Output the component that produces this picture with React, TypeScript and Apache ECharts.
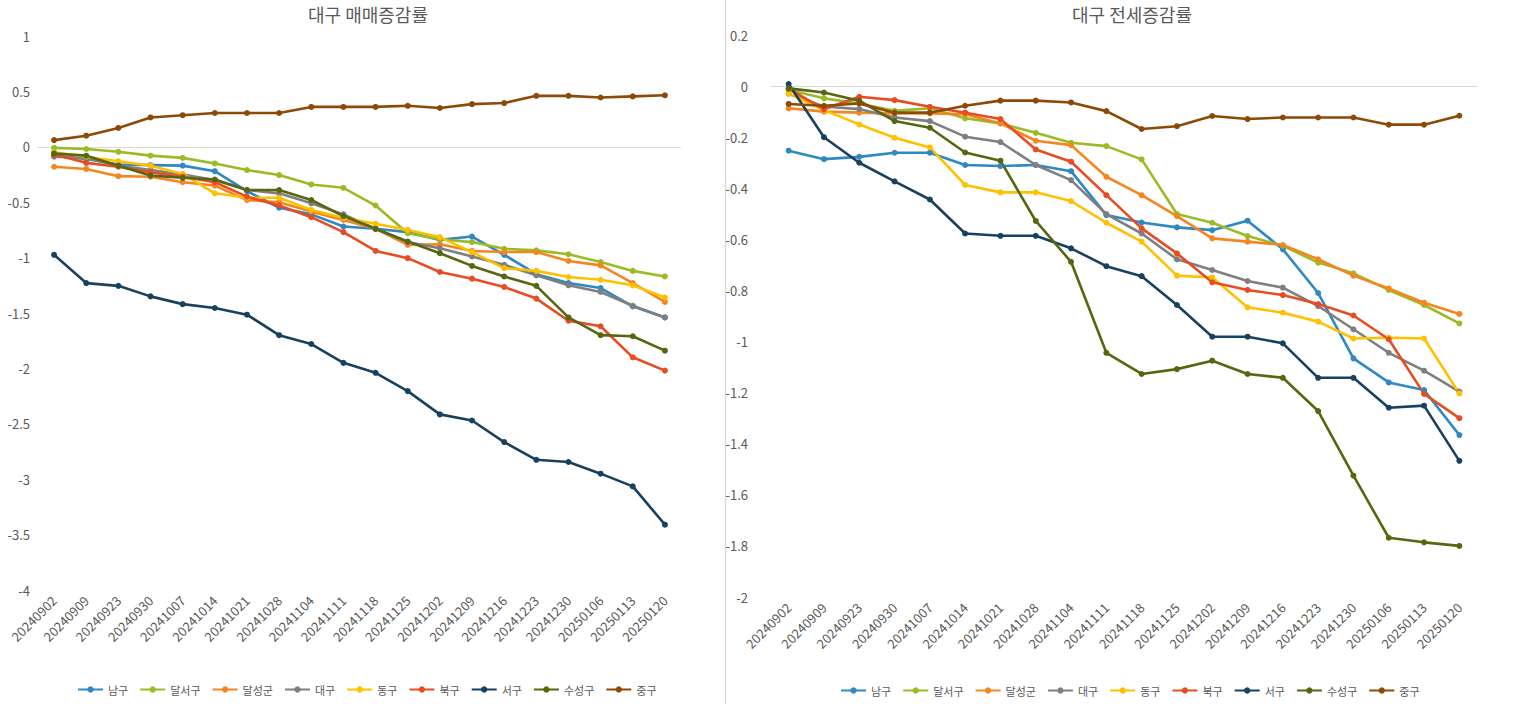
import React, { useEffect, useRef } from "react";
import * as echarts from "echarts";

const categories = [
  "20240902", "20240909", "20240923", "20240930", "20241007", "20241014", "20241021",
  "20241028", "20241104", "20241111", "20241118", "20241125", "20241202", "20241209",
  "20241216", "20241223", "20241230", "20250106", "20250113", "20250120",
];

const districts = ["남구", "달서구", "달성군", "대구", "동구", "북구", "서구", "수성구", "중구"];
const colors = ["#2e88c4", "#9bbb25", "#f5861f", "#7f7f7f", "#ffc000", "#e84c22", "#17415e", "#56670f", "#8c4a06"];

// 매매증감률
const sale_남구 = [-0.08, -0.11, -0.16, -0.165, -0.17, -0.22, -0.4, -0.55, -0.61, -0.72, -0.74, -0.77, -0.84, -0.81, -0.975, -1.15, -1.23, -1.275, -1.44, -1.54];
const sale_달서구 = [-0.01, -0.02, -0.045, -0.08, -0.1, -0.15, -0.21, -0.255, -0.34, -0.37, -0.53, -0.78, -0.835, -0.86, -0.92, -0.935, -0.97, -1.04, -1.12, -1.17];
const sale_달성군 = [-0.18, -0.2, -0.265, -0.27, -0.32, -0.35, -0.48, -0.5, -0.585, -0.66, -0.74, -0.885, -0.88, -0.94, -0.95, -0.95, -1.03, -1.07, -1.23, -1.4];
const sale_대구 = [-0.09, -0.1, -0.17, -0.21, -0.25, -0.3, -0.39, -0.42, -0.51, -0.61, -0.74, -0.86, -0.915, -0.99, -1.065, -1.16, -1.25, -1.31, -1.435, -1.54];
const sale_동구 = [-0.05, -0.09, -0.13, -0.17, -0.245, -0.42, -0.46, -0.46, -0.57, -0.64, -0.695, -0.75, -0.815, -0.95, -1.095, -1.12, -1.175, -1.2, -1.25, -1.36];
const sale_북구 = [-0.07, -0.145, -0.18, -0.23, -0.27, -0.32, -0.45, -0.53, -0.635, -0.77, -0.94, -1.005, -1.13, -1.19, -1.265, -1.37, -1.57, -1.62, -1.9, -2.02];
const sale_서구 = [-0.975, -1.23, -1.255, -1.35, -1.42, -1.455, -1.515, -1.7, -1.78, -1.95, -2.04, -2.205, -2.415, -2.47, -2.665, -2.825, -2.845, -2.95, -3.065, -3.41];
const sale_수성구 = [-0.06, -0.08, -0.17, -0.26, -0.28, -0.295, -0.39, -0.39, -0.48, -0.625, -0.74, -0.855, -0.96, -1.075, -1.17, -1.255, -1.54, -1.7, -1.71, -1.84];
const sale_중구 = [0.06, 0.1, 0.17, 0.265, 0.285, 0.305, 0.305, 0.305, 0.36, 0.36, 0.36, 0.37, 0.35, 0.385, 0.395, 0.46, 0.46, 0.445, 0.455, 0.465];

// 전세증감률
const jeon_남구 = [-0.253, -0.286, -0.277, -0.261, -0.261, -0.309, -0.313, -0.309, -0.333, -0.505, -0.534, -0.553, -0.564, -0.527, -0.639, -0.81, -1.066, -1.16, -1.19, -1.366];
const jeon_달서구 = [-0.015, -0.048, -0.068, -0.097, -0.087, -0.126, -0.146, -0.183, -0.222, -0.235, -0.287, -0.501, -0.535, -0.587, -0.625, -0.691, -0.733, -0.798, -0.857, -0.929];
const jeon_달성군 = [-0.087, -0.1, -0.104, -0.107, -0.107, -0.11, -0.146, -0.214, -0.231, -0.355, -0.427, -0.509, -0.596, -0.609, -0.622, -0.678, -0.742, -0.792, -0.848, -0.892];
const jeon_대구 = [-0.03, -0.08, -0.09, -0.123, -0.137, -0.198, -0.219, -0.309, -0.368, -0.501, -0.577, -0.678, -0.72, -0.763, -0.789, -0.861, -0.952, -1.044, -1.114, -1.196];
const jeon_동구 = [-0.029, -0.094, -0.15, -0.202, -0.24, -0.387, -0.416, -0.416, -0.45, -0.535, -0.609, -0.742, -0.749, -0.866, -0.887, -0.922, -0.988, -0.985, -0.988, -1.203];
const jeon_북구 = [-0.01, -0.091, -0.042, -0.055, -0.081, -0.104, -0.129, -0.248, -0.296, -0.427, -0.557, -0.655, -0.768, -0.798, -0.818, -0.853, -0.898, -0.991, -1.205, -1.3];
const jeon_서구 = [0.008, -0.2, -0.3, -0.373, -0.444, -0.577, -0.586, -0.586, -0.635, -0.705, -0.744, -0.857, -0.981, -0.981, -1.007, -1.142, -1.142, -1.259, -1.251, -1.467];
const jeon_수성구 = [-0.009, -0.025, -0.057, -0.137, -0.163, -0.26, -0.292, -0.528, -0.688, -1.044, -1.127, -1.108, -1.075, -1.127, -1.142, -1.272, -1.525, -1.768, -1.786, -1.8];
const jeon_중구 = [-0.07, -0.077, -0.068, -0.104, -0.104, -0.077, -0.057, -0.057, -0.064, -0.098, -0.168, -0.157, -0.117, -0.129, -0.123, -0.123, -0.123, -0.151, -0.151, -0.116];

const saleSeries = [sale_남구, sale_달서구, sale_달성군, sale_대구, sale_동구, sale_북구, sale_서구, sale_수성구, sale_중구];
const jeonSeries = [jeon_남구, jeon_달서구, jeon_달성군, jeon_대구, jeon_동구, jeon_북구, jeon_서구, jeon_수성구, jeon_중구];

const saleTitle = "대구 매매증감률";
const jeonTitle = "대구 전세증감률";

const FONT = "'Noto Sans CJK KR', 'Noto Sans', sans-serif";
const TEXT = "#595959";

export default function App() {
  const ref = useRef<HTMLDivElement>(null);

  useEffect(() => {
    if (!ref.current) return;
    const chart = echarts.init(ref.current, undefined, { renderer: "svg" });

    const fmt = (v: number) => String(Number(v.toFixed(1)));

    const makeSeries = (data: number[][], gridIdx: number) =>
      data.map((d, i) => ({
        name: districts[i],
        type: "line",
        xAxisIndex: gridIdx,
        yAxisIndex: gridIdx,
        data: d,
        symbol: "circle",
        symbolSize: 6,
        lineStyle: { width: 2.6, color: colors[i] },
        itemStyle: { color: colors[i] },
        color: colors[i],
        markLine:
          i === 0
            ? {
                silent: true,
                symbol: "none",
                label: { show: false },
                lineStyle: { color: "#d9d9d9", type: "solid", width: 1 },
                data: [{ yAxis: 0 }],
                z: 0,
              }
            : undefined,
      }));

    const xAxisBase = (gridIndex: number) => ({
      type: "category",
      gridIndex,
      data: categories,
      boundaryGap: true,
      axisLine: { show: false },
      axisTick: { show: false },
      axisLabel: {
        interval: 0,
        rotate: 45,
        margin: 8,
        color: TEXT,
        fontSize: 13,
        fontFamily: FONT,
      },
    });

    const legendBase = (left: number, top: number) => ({
      data: districts,
      left,
      top,
      itemWidth: 25,
      itemHeight: 8,
      itemGap: 11,
      textStyle: { color: TEXT, fontSize: 11, fontFamily: FONT },
    });

    chart.setOption({
      animation: false,
      backgroundColor: "#ffffff",
      title: [
        {
          text: saleTitle,
          left: 363,
          top: 0,
          textAlign: "center",
          textStyle: { color: TEXT, fontSize: 18, fontWeight: "normal", fontFamily: FONT },
        },
        {
          text: jeonTitle,
          left: 1127,
          top: 0,
          textAlign: "center",
          textStyle: { color: TEXT, fontSize: 18, fontWeight: "normal", fontFamily: FONT },
        },
      ],
      legend: [legendBase(72, 679), legendBase(835, 680)],
      grid: [
        { left: 38, right: 1520 - 681, top: 36, bottom: 704 - 590 },
        { left: 771, right: 1520 - 1477, top: 35, bottom: 704 - 597 },
      ],
      xAxis: [xAxisBase(0), xAxisBase(1)],
      yAxis: [
        {
          type: "value",
          gridIndex: 0,
          min: -4,
          max: 1,
          interval: 0.5,
          axisLine: { show: false },
          axisTick: { show: false },
          splitLine: { show: false },
          axisLabel: { margin: 8, color: TEXT, fontSize: 13, fontFamily: FONT, formatter: fmt },
        },
        {
          type: "value",
          gridIndex: 1,
          min: -2,
          max: 0.2,
          interval: 0.2,
          axisLine: { show: false },
          axisTick: { show: false },
          splitLine: { show: false },
          axisLabel: { margin: 23, color: TEXT, fontSize: 13, fontFamily: FONT, formatter: fmt },
        },
      ],
      graphic: [
        {
          type: "line",
          shape: { x1: 725.5, y1: 0, x2: 725.5, y2: 704 },
          style: { stroke: "#d9d9d9", lineWidth: 1.5 },
          silent: true,
        },
      ],
      series: [...makeSeries(saleSeries, 0), ...makeSeries(jeonSeries, 1)],
    });

    return () => chart.dispose();
  }, []);

  return (
    <div
      ref={ref}
      style={{ position: "fixed", left: 0, top: 0, width: 1520, height: 704, background: "#fff" }}
    />
  );
}
